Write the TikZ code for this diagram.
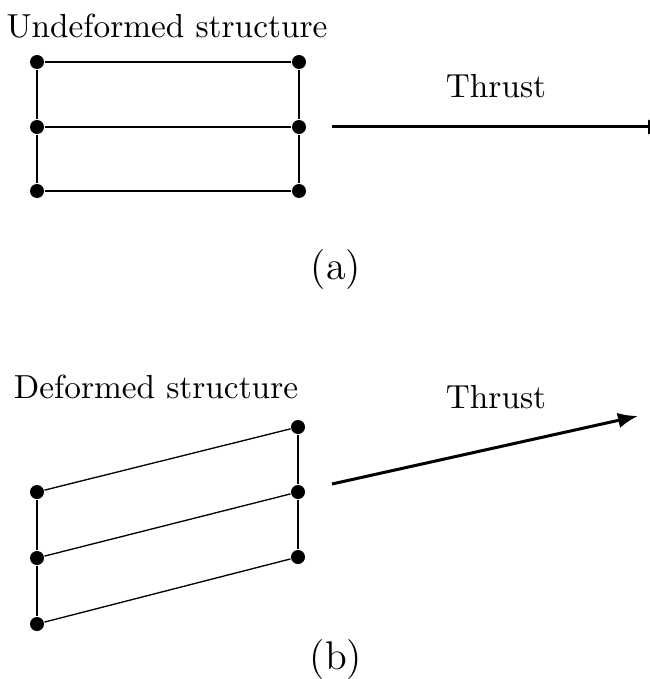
\documentclass[tikz,border=0pt]{standalone}
\usetikzlibrary{arrows.meta}
\begin{document}
\begin{tikzpicture}[x=0.3pt,y=-0.3pt,
  dot/.style={circle,fill=black,inner sep=0pt,minimum size=4.2pt},
  frame/.style={line width=0.4pt},
  thrust/.style={line width=0.9pt,-{Latex[length=6pt,width=4.6pt]}},
  lbl/.style={anchor=base,inner sep=0pt},
  captext/.style={font=\large}]
\useasboundingbox (0,0) rectangle (650,679);
% (a)
\node[dot] (a1) at (37,62) {};
\node[dot] (a2) at (37,127) {};
\node[dot] (a3) at (37,191) {};
\node[dot] (b1) at (299,62) {};
\node[dot] (b2) at (299,127) {};
\node[dot] (b3) at (299,191) {};
\draw[frame] (a1) -- (a2) -- (a3);
\draw[frame] (b1) -- (b2) -- (b3);
\draw[frame] (a1) -- (b1);
\draw[frame] (a2) -- (b2);
\draw[frame] (a3) -- (b3);
\coordinate (t1s) at (332,127);
\coordinate (t1e) at (668,127);
\draw[thrust] (t1s) -- (t1e);
\node[lbl] (ut) at (167,38) {Undeformed structure};
\node[lbl] (th1) at (496,98) {Thrust};
\node[captext] (capa) at (336,270) {(a)};
% (b)
\node[dot] (c1) at (37,492) {};
\node[dot] (c2) at (37,558) {};
\node[dot] (c3) at (37,624) {};
\node[dot] (d1) at (298,427) {};
\node[dot] (d2) at (298,492) {};
\node[dot] (d3) at (298,557) {};
\draw[frame] (c1) -- (c2) -- (c3);
\draw[frame] (d1) -- (d2) -- (d3);
\draw[frame] (c1) -- (d1);
\draw[frame] (c2) -- (d2);
\draw[frame] (c3) -- (d3);
\coordinate (t2s) at (332,484);
\coordinate (t2e) at (638,416);
\draw[thrust] (t2s) -- (t2e);
\node[lbl] (dt) at (156,398) {Deformed structure};
\node[lbl] (th2) at (496,408) {Thrust};
\node[captext] (capb) at (336,660) {(b)};
\end{tikzpicture}
\end{document}
